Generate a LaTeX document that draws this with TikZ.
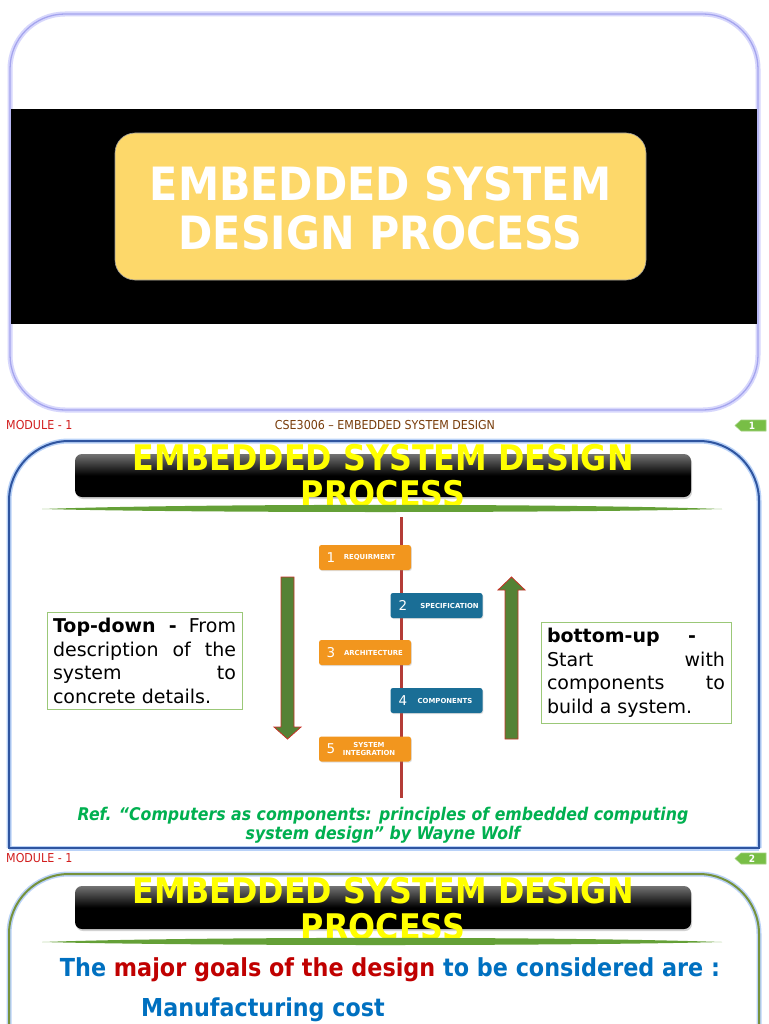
\documentclass[tikz,border=0pt]{standalone}
\usepackage{fontspec}
\setmainfont{DejaVu Sans}
\newfontfamily\cond{DejaVu Sans}[FakeStretch=0.9]
\usetikzlibrary{shadows}
\definecolor{lav}{RGB}{165,165,238}
\definecolor{lavglow}{RGB}{215,215,252}
\definecolor{frameblue}{RGB}{47,85,160}
\definecolor{glowblue}{RGB}{185,210,248}
\definecolor{framegreen}{RGB}{118,146,60}
\definecolor{steporange}{RGB}{242,150,30}
\definecolor{stepblue}{RGB}{26,110,150}
\definecolor{arrowgreen}{RGB}{84,130,53}
\definecolor{arrowred}{RGB}{200,50,40}
\definecolor{redline}{RGB}{180,60,55}
\definecolor{boxgreen}{RGB}{155,200,120}
\definecolor{refgreen}{RGB}{0,176,80}
\definecolor{titleyellow}{RGB}{255,255,0}
\definecolor{ybox}{RGB}{253,216,106}
\definecolor{modred}{RGB}{210,30,30}
\definecolor{csebrown}{RGB}{120,60,10}
\definecolor{textblue}{RGB}{0,112,192}
\definecolor{textred}{RGB}{192,0,0}
\definecolor{tabgreen}{RGB}{120,190,70}
\definecolor{lensgreen}{RGB}{100,160,55}
\tikzset{
  titlebar/.style={rounded corners=7pt, minimum width=616pt, minimum height=43pt, inner sep=0pt,
    top color=black!55, bottom color=black, middle color=black,
    drop shadow={opacity=0.35, shadow xshift=1pt, shadow yshift=-2pt}},
  titletext/.style={font=\cond\bfseries\fontsize{35.3}{36}\selectfont, text=titleyellow, align=center, inner sep=0pt},
  stepbox/.style={rounded corners=2.5pt, minimum width=92pt, minimum height=25pt, inner sep=0pt,
    drop shadow={opacity=0.25, shadow xshift=0.8pt, shadow yshift=-1pt}},
  obox/.style={stepbox, fill=steporange},
  bbox/.style={stepbox, fill=stepblue},
  num/.style={font=\fontsize{13.5}{13.5}\selectfont, text=white, inner sep=0pt},
  lab/.style={font=\bfseries\fontsize{6.9}{7.4}\selectfont, text=white, inner sep=0pt, align=center},
  bigarrow/.style={fill=arrowgreen, draw=arrowred, line width=0.8pt, line join=miter},
  tbox/.style={draw=boxgreen, line width=1pt, inner sep=6pt, align=justify,
    font=\fontsize{19}{23.5}\selectfont, minimum height=97pt},
  footred/.style={font=\cond\fontsize{12.3}{13}\selectfont, text=modred, inner sep=0pt, anchor=west},
  tabshape/.style={fill=tabgreen, draw=tabgreen!70!white, line width=0.6pt},
  tabtext/.style={font=\cond\bfseries\fontsize{10}{10}\selectfont, text=white, inner sep=0pt},
  lens/.style={fill=lensgreen},
}
\begin{document}
\begin{tikzpicture}[x=1pt,y=-1pt]
\useasboundingbox (0,0) rectangle (768,1024);
\clip (0,0) rectangle (768,1024);
\fill[white] (0,0) rectangle (768,1024);

% ---------- slide 1 ----------
\draw[line width=5pt, draw=lavglow, rounded corners=55pt] (10,14) rectangle (758,410);
\draw[line width=1.3pt, draw=lav, rounded corners=55pt] (10,14) rectangle (758,410);
\fill[black] (11,109) rectangle (757,324);
\node[fill=ybox, draw=black!40, line width=0.6pt, rounded corners=20pt, minimum width=531pt, minimum height=147pt] (ybx) at (380.5,206.5) {};
\node[font=\cond\bfseries\fontsize{45.9}{49}\selectfont, text=white, align=center, inner sep=0pt] (t1) at (380.5,208) {EMBEDDED SYSTEM\\DESIGN PROCESS};

% ---------- footer 1 ----------
\node[footred] (m1) at (6,425) {MODULE - 1};
\node[font=\cond\fontsize{12.3}{13}\selectfont, text=csebrown, inner sep=0pt] (cse) at (385,425) {CSE3006 – EMBEDDED SYSTEM DESIGN};
\filldraw[tabshape] (735,425.5) -- (741,420) -- (766,420) -- (766,431) -- (741,431) -- cycle;
\node[tabtext] (n1) at (752,425.5) {1};

% ---------- slide 2 ----------
\draw[line width=5pt, draw=glowblue, rounded corners=60pt] (9,848) -- (9,441) -- (759,441) -- (759,848);
\draw[line width=5pt, draw=glowblue] (9,848) -- (759,848);
\draw[line width=2pt, draw=frameblue, rounded corners=60pt] (9,848) -- (9,441) -- (759,441) -- (759,848);
\draw[line width=2pt, draw=frameblue, line cap=rect] (9,848) -- (759,848);

\node[titlebar] (tb2) at (383,475.5) {};
\node[titletext] (tt2) at (383,476) {EMBEDDED SYSTEM DESIGN\\PROCESS};
\fill[lens] (42,509) .. controls (200,503.5) and (560,503.5) .. (722,509) .. controls (560,513) and (200,513) .. (42,509) -- cycle;

% vertical line
\coordinate (ltop) at (401,517);
\coordinate (lbot) at (401,798);
\draw[draw=redline, line width=3pt] (ltop) -- (lbot);

% steps
\node[obox] (s1) at (365,557.5) {};
\node[num] (s1n) at (331,557.5) {1};
\node[lab] (s1l) at (369.5,557.5) {REQUIRMENT};
\node[bbox] (s2) at (436.5,605.5) {};
\node[num] (s2n) at (403,605.5) {2};
\node[lab] (s2l) at (449.5,605.5) {SPECIFICATION};
\node[obox] (s3) at (365,652.5) {};
\node[num] (s3n) at (331,652.5) {3};
\node[lab] (s3l) at (373.5,652.5) {ARCHITECTURE};
\node[bbox] (s4) at (436.5,700.5) {};
\node[num] (s4n) at (403,700.5) {4};
\node[lab] (s4l) at (445,700.5) {COMPONENTS};
\node[obox] (s5) at (365,749) {};
\node[num] (s5n) at (331,749) {5};
\node[lab] (s5l) at (369,749) {SYSTEM\\INTEGRATION};

% big arrows
\draw[bigarrow] (281,577) -- (294,577) -- (294,727) -- (301,727) -- (287.5,739) -- (274,727) -- (281,727) -- cycle;
\draw[bigarrow] (505,739) -- (518,739) -- (518,590) -- (525,590) -- (511.5,577) -- (498,590) -- (505,590) -- cycle;

% text boxes
\node[tbox, text width=183pt] (td) at (144.5,661) {\textbf{Top-down -} From\linebreak description of the\linebreak system to\linebreak concrete details.};
\node[tbox, text width=178pt] (bu) at (636,673) {\textbf{bottom-up\hfill -}\hspace*{29pt}\linebreak Start with\linebreak components to\linebreak build a system.};

% reference
\node[font=\cond\bfseries\itshape\fontsize{17.5}{19}\selectfont, text=refgreen, align=center, inner sep=0pt] (ref) at (383,825.5) {Ref. “Computers as components: principles of embedded computing\\system design” by Wayne Wolf};

% ---------- footer 2 ----------
\node[footred] (m2) at (6,858) {MODULE - 1};
\filldraw[tabshape] (735,858.5) -- (741,853) -- (766,853) -- (766,864) -- (741,864) -- cycle;
\node[tabtext] (n2) at (752,858.5) {2};

% ---------- slide 3 ----------
\draw[line width=5pt, draw=glowblue, rounded corners=60pt] (9,1040) -- (9,874) -- (759,874) -- (759,1040);
\draw[line width=2pt, draw=framegreen, rounded corners=60pt] (9,1040) -- (9,874) -- (759,874) -- (759,1040);

\node[titlebar] (tb3) at (383,907.5) {};
\node[titletext] (tt3) at (383,909) {EMBEDDED SYSTEM DESIGN\\PROCESS};
\fill[lens] (42,942) .. controls (200,936.5) and (560,936.5) .. (722,942) .. controls (560,946) and (200,946) .. (42,942) -- cycle;

\node[font=\cond\bfseries\fontsize{24.8}{26}\selectfont, inner sep=0pt] (goals) at (390,970) {\textcolor{textblue}{The} \textcolor{textred}{major goals of the design} \textcolor{textblue}{to be considered are :}};
\node[font=\cond\bfseries\fontsize{24.7}{26}\selectfont, text=textblue, inner sep=0pt, anchor=west] (mc) at (141,1010) {Manufacturing cost};
\end{tikzpicture}
\end{document}
